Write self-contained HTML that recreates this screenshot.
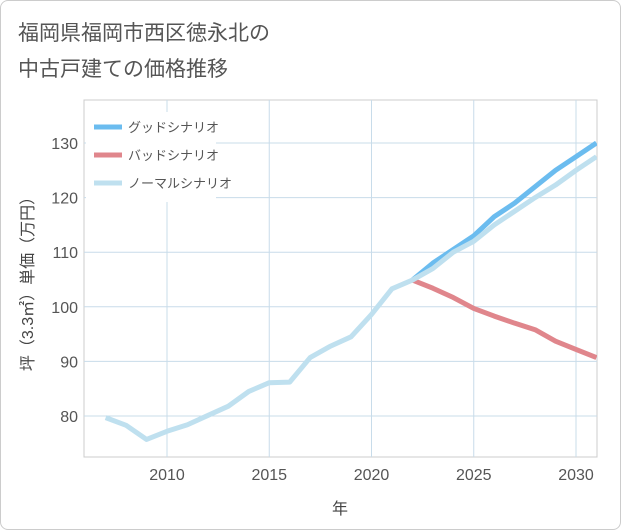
<!DOCTYPE html>
<html><head><meta charset="utf-8"><style>
body{margin:0;background:#fff;font-family:"Liberation Sans","Noto Sans CJK JP",sans-serif;}
#wrap{position:relative;width:619px;height:528px;border:1px solid #ccc;border-radius:8px;background:#fff;}
</style></head><body>
<div id="wrap">
<svg id="chart" width="621" height="530" style="position:absolute;left:-1px;top:-1px">
<text x="18" y="40" font-size="21" fill="#555">福岡県福岡市西区徳永北の</text>
<text x="18" y="76" font-size="21" fill="#555">中古戸建ての価格推移</text>
<g id="grid"></g><g id="series"></g>
<text transform="translate(33,280) rotate(-90)" text-anchor="middle" font-size="16" fill="#444">坪（3.3㎡）単価（万円）</text>
<text x="340" y="514" text-anchor="middle" font-size="16" fill="#444">年</text>
</svg></div>
<script>
const years=[2007,2008,2009,2010,2011,2012,2013,2014,2015,2016,2017,2018,2019,2020,2021,2022,2023,2024,2025,2026,2027,2028,2029,2030,2031];
const normal=[79.7,78.3,75.7,77.2,78.4,80.1,81.8,84.5,86.1,86.2,90.7,92.8,94.5,98.6,103.3,104.9,107,110,112,115,117.5,120,122.3,125,127.5];
const futureYears=[2022,2023,2024,2025,2026,2027,2028,2029,2030,2031];
const good=[104.9,108,110.5,113,116.5,119,122,125,127.5,130];
const bad=[104.9,103.4,101.7,99.7,98.3,97,95.8,93.7,92.2,90.7];
const xTicks=[2010,2015,2020,2025,2030];
const yTicks=[80,90,100,110,120,130];
const NS='http://www.w3.org/2000/svg';
const L=84,R=597,T=100,B=457;
const x=v=>167+(v-2010)*20.45;
const y=v=>416-(v-80)*5.46;
const grid=document.getElementById('grid'),ser=document.getElementById('series');
function mk(tag,attrs,parent){const e=document.createElementNS(NS,tag);for(const k in attrs)e.setAttribute(k,attrs[k]);parent.appendChild(e);return e;}
const frame=mk('rect',{x:L,y:T,width:R-L,height:B-T,fill:'#fff',stroke:'#ccc'},grid);


xTicks.forEach(t=>{const g=mk('line',{x1:x(t),x2:x(t),y1:T,y2:B,stroke:'#c8dcea'},grid);

});
yTicks.forEach(v=>{const g=mk('line',{x1:L,x2:R,y1:y(v),y2:y(v),stroke:'#c8dcea'},grid);

});
xTicks.forEach(t=>{const e=mk('text',{x:x(t),y:480,'text-anchor':'middle','font-size':16,fill:'#555'},grid);e.textContent=t;

});
yTicks.forEach(t=>{const e=mk('text',{x:78,y:y(t)+6,'text-anchor':'end','font-size':16,fill:'#555'},grid);e.textContent=t;

});
function line(xs,vs,color,name){const p=mk('polyline',{points:xs.map((a,i)=>x(a)+','+y(vs[i])).join(' '),fill:'none',stroke:color,'stroke-width':5,'stroke-linejoin':'round'},ser);

}
const clip=mk('clipPath',{id:'c'},ser);mk('rect',{x:L,y:T,width:R-L,height:B-T},clip);ser.setAttribute('clip-path','url(#c)');
line(futureYears,good,'#6bbcef','good-scenario-line');
line(futureYears,bad,'#e0868c','bad-scenario-line');
line(years,normal,'#bfe0ef','normal-scenario-line');
const svg=document.getElementById('chart');
const lg=mk('g',{},svg);


mk('rect',{x:86,y:112,width:130,height:90,fill:'#fff'},lg);
[['グッドシナリオ','#6bbcef',127],['バッドシナリオ','#e0868c',155],['ノーマルシナリオ','#bfe0ef',183]].forEach(([t,c,yy])=>{
const g=mk('g',{},lg);


mk('line',{x1:94,x2:122,y1:yy,y2:yy,stroke:c,'stroke-width':5},g);
const e=mk('text',{x:128,y:yy+5,'font-size':13,fill:'#555'},g);e.textContent=t;});
</script></body></html>
